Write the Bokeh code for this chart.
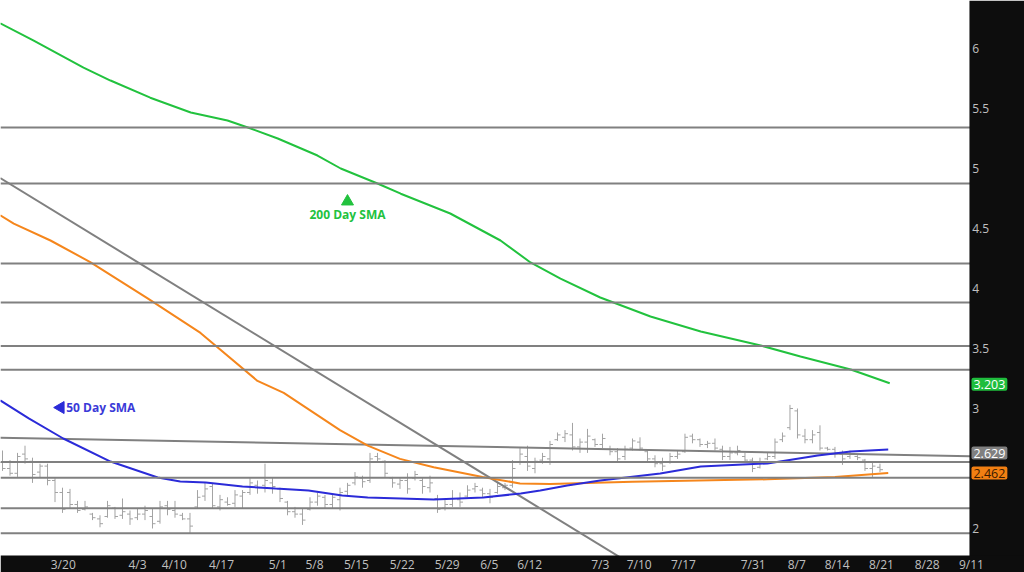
import math
from bokeh.plotting import figure
from bokeh.models import Span, Label, ColumnDataSource, BoxAnnotation
from bokeh.embed import file_html
from bokeh.resources import INLINE

# ---------------- data ----------------
high = [2.65,2.57,2.63,2.69,2.59,2.54,2.54,2.42,2.34,2.33,2.23,2.23,2.13,2.11,2.23,2.18,2.25,2.15,2.17,2.19,2.17,2.23,2.23,2.23,
        2.13,2.13,2.32,2.38,2.38,2.28,2.26,2.32,2.32,2.42,2.40,2.54,2.42,2.34,2.23,2.18,2.17,2.26,2.30,2.28,2.28,2.34,2.38,
        2.47,2.44,2.63,2.63,2.57,2.43,2.42,2.46,2.48,2.42,2.44,2.28,2.25,2.32,2.30,2.36,2.38,2.34,2.33,2.38,2.38,2.57,2.67,2.69,
        2.59,2.63,2.73,2.80,2.82,2.88,2.75,2.83,2.75,2.79,2.69,2.67,2.69,2.75,2.76,2.65,2.61,2.59,2.63,2.65,2.79,2.79,2.75,
        2.73,2.75,2.69,2.68,2.69,2.63,2.59,2.59,2.63,2.75,2.80,3.03,3.00,2.83,2.82,2.86,2.68,2.68,2.65,2.65,2.61,2.58,2.55,2.54]
low = [2.48,2.44,2.43,2.54,2.38,2.42,2.36,2.22,2.13,2.17,2.13,2.15,2.07,2.01,2.09,2.08,2.08,2.03,2.07,2.07,2.00,2.04,2.11,2.09,
       2.07,1.96,2.17,2.23,2.17,2.15,2.19,2.18,2.17,2.28,2.29,2.30,2.29,2.22,2.11,2.09,2.03,2.15,2.19,2.17,2.17,2.15,2.28,
       2.36,2.34,2.38,2.55,2.43,2.34,2.33,2.29,2.40,2.29,2.30,2.13,2.15,2.18,2.18,2.26,2.30,2.26,2.21,2.29,2.32,2.34,2.53,2.48,
       2.46,2.54,2.53,2.73,2.72,2.65,2.63,2.63,2.68,2.67,2.61,2.55,2.57,2.65,2.65,2.55,2.51,2.48,2.54,2.58,2.63,2.71,2.68,
       2.67,2.65,2.57,2.57,2.61,2.55,2.47,2.50,2.57,2.58,2.72,2.82,2.75,2.71,2.71,2.65,2.65,2.59,2.53,2.58,2.57,2.48,2.43,2.47]
opens = [2.55,2.50,2.46,2.62,2.56,2.47,2.52,2.40,2.30,2.30,2.20,2.16,2.12,2.08,2.10,2.17,2.11,2.12,2.09,2.12,2.10,2.06,2.19,2.15,
         2.11,2.08,2.18,2.27,2.35,2.18,2.22,2.21,2.27,2.30,2.36,2.36,2.38,2.33,2.22,2.14,2.12,2.16,2.22,2.26,2.20,2.24,2.31,
         2.38,2.42,2.40,2.60,2.56,2.42,2.37,2.40,2.42,2.40,2.34,2.25,2.17,2.20,2.24,2.27,2.33,2.32,2.29,2.30,2.34,2.36,2.55,2.60,
         2.50,2.57,2.58,2.74,2.76,2.78,2.68,2.72,2.74,2.70,2.66,2.64,2.60,2.67,2.72,2.64,2.58,2.54,2.55,2.60,2.64,2.77,2.74,
         2.70,2.71,2.66,2.60,2.63,2.60,2.57,2.51,2.58,2.60,2.74,2.84,2.98,2.77,2.74,2.80,2.67,2.66,2.62,2.60,2.60,2.57,2.50,2.51]
closes = [2.50,2.46,2.60,2.58,2.45,2.52,2.40,2.30,2.16,2.20,2.15,2.18,2.09,2.04,2.19,2.10,2.14,2.08,2.12,2.15,2.04,2.18,2.16,2.12,
          2.08,2.02,2.26,2.33,2.19,2.24,2.20,2.28,2.30,2.38,2.34,2.40,2.35,2.25,2.14,2.12,2.07,2.22,2.27,2.20,2.26,2.30,2.36,
          2.43,2.39,2.58,2.58,2.46,2.38,2.40,2.33,2.45,2.35,2.38,2.16,2.20,2.25,2.22,2.32,2.35,2.29,2.26,2.35,2.36,2.50,2.62,2.52,
          2.56,2.60,2.70,2.78,2.79,2.68,2.72,2.77,2.70,2.75,2.64,2.58,2.66,2.73,2.67,2.58,2.54,2.52,2.60,2.62,2.76,2.74,2.70,
          2.71,2.67,2.60,2.63,2.65,2.57,2.50,2.55,2.60,2.72,2.77,3.00,2.78,2.74,2.78,2.67,2.66,2.63,2.58,2.62,2.59,2.50,2.52,2.49]

sma200_x = [-0.3, 4.1, 10.8, 14.4, 19.7, 25.1, 30, 33.1, 36.7, 42, 45.1, 50, 53.1, 59.7, 66.4, 70.4, 74.4, 79.7, 86.4, 93.1, 101.1, 106.4, 113.1, 118.3]
sma200_y = [6.21, 6.067, 5.84, 5.733, 5.59, 5.467, 5.40, 5.333, 5.25, 5.108, 5.0, 4.875, 4.79, 4.625, 4.40, 4.217, 4.083, 3.925, 3.767, 3.642, 3.525, 3.433, 3.325, 3.21]

sma50_x = [-0.3, 3.5, 8.1, 14.4, 20.7, 23.7, 27.1, 32, 36.4, 40.8, 45.3, 48.7, 57.5, 64.1, 69.1, 71.7, 75.3, 79.7, 87.7, 93.1, 102, 108.7, 113.1, 118.1]
sma50_y = [3.067, 2.917, 2.75, 2.558, 2.425, 2.392, 2.383, 2.35, 2.333, 2.317, 2.275, 2.258, 2.242, 2.258, 2.292, 2.317, 2.358, 2.40, 2.458, 2.517, 2.542, 2.608, 2.642, 2.658]

sma_or_x = [-0.3, 1.5, 6.4, 11.7, 19.3, 26.4, 34, 37.5, 45, 48.7, 53, 57.5, 64, 69, 73, 84, 102, 111, 118.1]
sma_or_y = [4.61, 4.54, 4.40, 4.22, 3.92, 3.63, 3.23, 3.13, 2.82, 2.69, 2.58, 2.51, 2.43, 2.375, 2.37, 2.39, 2.41, 2.43, 2.462]

levels = [5.342, 4.875, 4.208, 3.883, 3.521, 3.323, 2.554, 2.423, 2.169, 1.961]

trend_flat_x = [-0.3, 129]
trend_flat_y = [2.757, 2.603]
trend_steep_x = [-0.3, 95]
trend_steep_y = [4.92, 1.276]

x_tick_pos = [8.1, 18.0, 22.9, 29.2, 36.7, 41.6, 47.2, 53.3, 59.3, 64.9, 70.3, 79.7, 84.9, 90.8,
              100.1, 105.9, 111.3, 117.2, 123.3, 129.2]
x_tick_labels = ["3/20", "4/3", "4/10", "4/17", "5/1", "5/8", "5/15", "5/22", "5/29", "6/5", "6/12",
                 "7/3", "7/10", "7/17", "7/31", "8/7", "8/14", "8/21", "8/28", "9/11"]
y_ticks = [2, 3, 3.5, 4, 4.5, 5, 5.5, 6]
y_tick_labels = ["2", "3", "3.5", "4", "4.5", "5", "5.5", "6"]

tags = [("3.203", 3.203, "#1fbd3d", "white"),
        ("2.629", 2.629, "#808080", "white"),
        ("2.462", 2.462, "#f27f12", "#3a1a00")]

# ---------------- layout / styles ----------------
FONT = "Open Sans"
GREEN = "#22c23e"
BLUE = "#2b2bd8"
ORANGE = "#f5861c"
GRAY = "#808080"
BAR = "#a3a3a3"
DARK = "#0d0d0d"
TICK_TXT = "#c0c0c0"
X_START, X_END = -0.267, 136.27      # full canvas width in bar units
Y_START, Y_END = 1.6333, 6.4         # full canvas height in price units
AXIS_EDGE = 128.93                   # left edge of the dark price-axis strip
DATE_EDGE = 1.775                    # top edge of the dark date strip
LABEL_X = 129.3
DATE_Y = 1.70

p = figure(width=1024, height=572, x_range=(X_START, X_END), y_range=(Y_START, Y_END),
           output_backend="svg", toolbar_location=None,
           x_axis_location=None, y_axis_location=None,
           min_border_left=0, min_border_top=0, min_border_right=0, min_border_bottom=0,
           background_fill_color="white", border_fill_color=DARK, outline_line_color=None)
p.xgrid.visible = False
p.ygrid.visible = False

n = len(high)
xs = list(range(n))
src = ColumnDataSource(dict(
    x=xs, xl=[i - 0.4 for i in xs], xr=[i + 0.4 for i in xs],
    high=high, low=low, open=opens, close=closes))

p.segment(x0="x", y0="low", x1="x", y1="high", source=src, line_color=BAR, line_width=1)
p.segment(x0="xl", y0="open", x1="x", y1="open", source=src, line_color=BAR, line_width=1)
p.segment(x0="x", y0="close", x1="xr", y1="close", source=src, line_color=BAR, line_width=1)

for lv in levels:
    p.add_layout(Span(location=lv, dimension="width", line_color=GRAY, line_width=2))

p.line(trend_flat_x, trend_flat_y, line_color=GRAY, line_width=2)
p.line(trend_steep_x, trend_steep_y, line_color=GRAY, line_width=2)

p.line(sma_or_x, sma_or_y, line_color=ORANGE, line_width=2)
p.line(sma50_x, sma50_y, line_color=BLUE, line_width=2)
p.line(sma200_x, sma200_y, line_color=GREEN, line_width=2)

# annotations
p.scatter([46], [4.725], marker="triangle", size=12, color=GREEN)
p.add_layout(Label(x=46, y=4.617, text="200 Day SMA", text_align="center", text_baseline="middle",
                   text_color=GREEN, text_font=FONT, text_font_style="bold", text_font_size="12px"))
p.scatter([7.75], [3.008], marker="triangle", size=12, angle=math.pi / 2, color=BLUE)
p.add_layout(Label(x=8.5, y=3.008, text="50 Day SMA", text_align="left", text_baseline="middle",
                   text_color="#3a3ad8", text_font=FONT, text_font_style="bold", text_font_size="12px"))

# dark axis strips (right: price, bottom: dates), drawn over the plot
p.add_layout(BoxAnnotation(left=AXIS_EDGE, fill_color=DARK, fill_alpha=1.0, line_color=None, level="overlay"))
p.add_layout(BoxAnnotation(top=DATE_EDGE, fill_color=DARK, fill_alpha=1.0, line_color=None, level="overlay"))

for val, txt in zip(y_ticks, y_tick_labels):
    p.add_layout(Label(x=LABEL_X, y=val, text=txt, text_align="left", text_baseline="middle",
                       text_color=TICK_TXT, text_font=FONT, text_font_size="12px", level="overlay"))

for pos, txt in zip(x_tick_pos, x_tick_labels):
    p.add_layout(Label(x=pos, y=DATE_Y, text=txt, text_align="center", text_baseline="middle",
                       text_color=TICK_TXT, text_font=FONT, text_font_size="12px", level="overlay"))

for txt, val, bg, fg in tags:
    p.add_layout(Label(x=LABEL_X - 0.1, y=val, text=txt, text_align="left", text_baseline="middle",
                       text_color=fg, text_font=FONT, text_font_size="12.5px",
                       background_fill_color=bg, padding=2, border_radius=2, level="overlay"))

open("out.html", "w").write(file_html(p, INLINE))
